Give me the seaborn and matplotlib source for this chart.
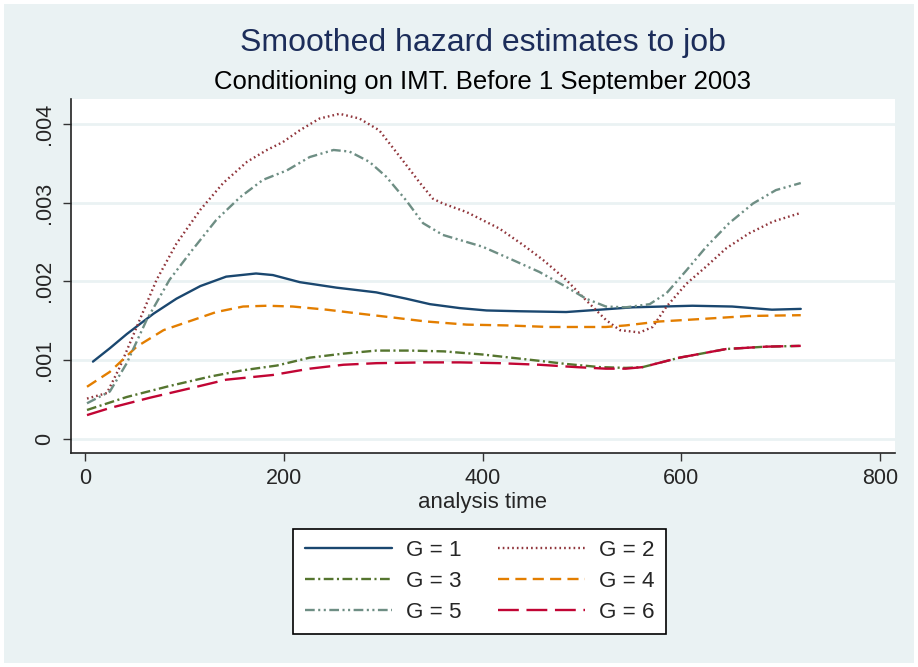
import matplotlib
matplotlib.use('Agg')
import matplotlib.pyplot as plt
import seaborn as sns
import pandas as pd

# values
groups = ['G = 1', 'G = 2', 'G = 3', 'G = 4', 'G = 5', 'G = 6']

g1_t = [8, 25, 42, 69, 92, 116, 142, 172, 189, 216, 253, 293, 323, 347, 377, 404, 437, 484, 518, 551, 611, 651, 691, 720]
g1_h = [.00098, .00115, .00133, .00159, .00178, .00194, .00206, .0021, .00208, .00199, .00192, .00186, .00178, .00171,
        .00166, .00163, .00162, .00161, .00164, .00167, .00169, .00168, .00164, .00165]

g2_t = [2, 22, 35, 52, 72, 92, 116, 139, 163, 183, 199, 216, 236, 256, 276, 296, 317, 337, 350, 360, 384, 417, 441,
        461, 484, 504, 524, 538, 558, 571, 585, 605, 625, 645, 668, 692, 720]
g2_h = [.00051, .00058, .00091, .00142, .00202, .00248, .00291, .00325, .00352, .00367, .00377, .00392, .00407, .00413,
        .00407, .00392, .00358, .00325, .00305, .00299, .00288, .00267, .00246, .00227, .00202, .00176, .00151, .00138,
        .00135, .00142, .00168, .00197, .00219, .00242, .00261, .00276, .00287]

g3_t = [2, 42, 85, 126, 159, 193, 226, 259, 293, 327, 361, 400, 450, 484, 518, 544, 561, 598, 645, 685, 720]
g3_h = [.000365, .00053, .00067, .00079, .00087, .00093, .00103, .00108, .00112, .00112, .00111, .00107, .001, .00095,
        .00091, .0009, .00091, .00103, .00114, .00117, .00118]

g4_t = [2, 25, 52, 79, 109, 132, 159, 183, 209, 243, 276, 310, 343, 384, 424, 467, 524, 544, 578, 618, 668, 720]
g4_h = [.00066, .00085, .00117, .00138, .00151, .00161, .00168, .00169, .00168, .00164, .00159, .00154, .00149, .00145,
        .00144, .00142, .00142, .00144, .00149, .00152, .00156, .00157]

g5_t = [2, 25, 42, 62, 85, 108, 132, 156, 179, 203, 226, 250, 266, 286, 303, 323, 340, 360, 400, 427, 457, 484, 504,
        524, 544, 568, 585, 605, 625, 648, 672, 695, 720]
g5_h = [.00045, .0006, .00096, .00151, .00202, .0024, .00278, .00307, .00329, .00341, .00358, .00367, .00365, .00352,
        .00333, .00303, .00274, .00259, .00244, .00229, .00212, .00193, .00178, .00168, .00167, .00171, .00185, .00214,
        .00244, .00274, .00299, .00316, .00325]

g6_t = [2, 25, 65, 109, 142, 189, 226, 260, 293, 343, 377, 417, 457, 494, 524, 544, 561, 598, 645, 685, 720]
g6_h = [.0003, .00039, .00052, .00065, .00075, .00081, .00089, .00094, .00096, .00097, .00097, .00096, .00094, .00091,
        .00089, .00089, .00091, .00103, .00114, .00117, .00118]

x_ticks = [0, 200, 400, 600, 800]
y_ticks = [0, .001, .002, .003, .004]
y_tick_labels = ['0', '.001', '.002', '.003', '.004']

times = [g1_t, g2_t, g3_t, g4_t, g5_t, g6_t]
hazards = [g1_h, g2_h, g3_h, g4_h, g5_h, g6_h]
df = pd.concat([pd.DataFrame({'t': t, 'h': h, 'G': g}) for t, h, g in zip(times, hazards, groups)],
               ignore_index=True)

# stata s2color look
colors = ['#1A476F', '#90353B', '#55752F', '#E37E00', '#6E8E84', '#C10534']
dashes = ['', (1.2, 2.2), (7, 2.5, 1.5, 2.5), (8, 4.5), (7, 2.5, 1.5, 2.5, 1.5, 2.5), (15, 5.5)]
bg = '#EAF2F3'

sns.set_style('white')
plt.rcParams['font.family'] = ['Liberation Sans', 'DejaVu Sans']
plt.rcParams['lines.scale_dashes'] = False

fig = plt.figure(figsize=(9.18, 6.67), dpi=100)
fig.patch.set_facecolor(bg)
fig.patch.set_edgecolor('white')
fig.patch.set_linewidth(4.5)
ax = fig.add_axes([70.7 / 918, 1 - 452.7 / 667, (895 - 70.7) / 918, (452.7 - 99) / 667])

sns.lineplot(data=df, x='t', y='h', hue='G', style='G', palette=dict(zip(groups, colors)),
             dashes=dict(zip(groups, dashes)), linewidth=1.7, legend=False, ax=ax)

ax.set_xlim(-14.4, 814.8)
ax.set_ylim(-0.000178, 0.004318)
ax.set_xticks(x_ticks)
ax.set_yticks(y_ticks)
ax.set_yticklabels(y_tick_labels, rotation=90, va='center')
ax.tick_params(axis='both', direction='out', length=6, width=1, color='#333333', labelsize=15.5, pad=5,
               left=True, bottom=True)
ax.yaxis.grid(True, color=bg, linewidth=2)
ax.set_axisbelow(True)
for s in ['top', 'right']:
    ax.spines[s].set_visible(False)
for s in ['left', 'bottom']:
    ax.spines[s].set_color('#222222')
    ax.spines[s].set_linewidth(1.2)
ax.set_xlabel('analysis time', fontsize=16, labelpad=2)
ax.set_ylabel('')

fig.text(482.5 / 918, 1 - 43 / 667, 'Smoothed hazard estimates to job', ha='center', va='center',
         fontsize=23, color='#1C2D5A')
fig.text(482.5 / 918, 1 - 82 / 667, 'Conditioning on IMT. Before 1 September 2003', ha='center', va='center',
         fontsize=18.5, color='black')

lines = ax.get_lines()[:6]
order = [0, 2, 4, 1, 3, 5]
leg = fig.legend([lines[i] for i in order], [groups[i] for i in order], ncol=2, loc='center',
                 bbox_to_anchor=(479.5 / 918, 1 - 581.5 / 667), fontsize=16.2, frameon=True, fancybox=False,
                 framealpha=1, edgecolor='black', handlelength=3.9, handletextpad=0.6, columnspacing=1.6,
                 labelspacing=0.45, borderpad=0.5)
leg.get_frame().set_linewidth(1.2)

fig.savefig('out.png', dpi=100, facecolor=fig.get_facecolor(), edgecolor=fig.patch.get_edgecolor())
